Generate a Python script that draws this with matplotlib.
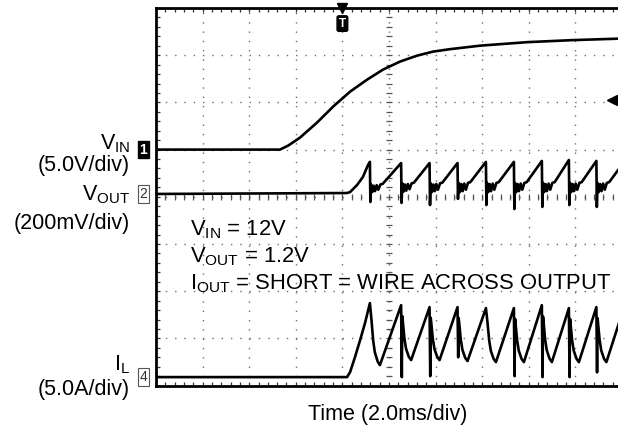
import numpy as np
import matplotlib
matplotlib.use("Agg")
import matplotlib.pyplot as plt
from matplotlib.ticker import MultipleLocator
import matplotlib.transforms as mtransforms

plt.rcParams['font.family'] = ['Liberation Sans', 'DejaVu Sans']
plt.rcParams['mathtext.fontset'] = 'custom'
plt.rcParams['mathtext.rm'] = 'Liberation Sans'
plt.rcParams['mathtext.it'] = 'Liberation Sans'

# ---------------- data (time in ms, 2 ms/div) ----------------
# V_IN (V), 5 V/div
vin_t = [0.0, 5.32, 5.67, 6.18, 6.91, 7.60, 8.33, 9.06, 9.74, 10.47, 11.20,
         11.89, 12.62, 13.91, 15.92, 17.90, 19.83, 20.0]
vin_v = [0.0, 0.0, 0.42, 1.27, 2.86, 4.55, 6.14, 7.41, 8.47, 9.32, 9.95,
         10.38, 10.64, 11.01, 11.38, 11.60, 11.75, 11.77]

# switching cycle peak times (ms)
cycle_t = [9.18, 10.52, 11.74, 12.94, 14.16, 15.36, 16.56, 17.72, 18.90, 20.09]

# V_OUT (mV), 200 mV/div
vout_start_t = [0.0, 8.20, 8.33, 8.63, 8.88, 9.10]
vout_start_mv = [0, 4, 8, 38, 72, 123]
vout_peak = [136, 131, 131, 131, 136, 136, 140, 144, 140, 136]
vout_spike = [-34, -38, -47, -21, -47, -64, -55, -47, -55]
vout_ring_hi = [40, 45, 45, 47, 47, 47, 47, 47, 47]
vout_ring_lo = [8, 10, 8, 8, 8, 8, 8, 8, 8]
ring_dt = [0.05, 0.10, 0.16, 0.22, 0.29, 0.36, 0.45, 0.55]

# I_L (A), 5 A/div
il_start_t = [0.0, 8.20, 8.33, 8.54, 8.76, 8.97]
il_start_a = [0.0, 0.0, 0.53, 2.12, 3.92, 5.72]
il_peak = [7.84, 7.62, 7.41, 7.41, 7.31, 7.31, 7.62, 7.31, 7.41, 7.41]
il_min = [1.27, 1.80, 1.80, 1.70, 1.59, 1.59, 1.59, 1.59, 1.59]
il_spike = [np.nan, 0.0, 0.1, 2.1, np.nan, 0.1, 0.0, 0.0, 0.5]
il_decay_dt = [0.07, 0.14, 0.21, 0.33, 0.43]
il_decay_frac = [0.72, 0.40, 0.21, 0.06, 0.0]

# channel offsets (divisions)
VIN_OFF, VOUT_OFF, IL_OFF = 5.0, 4.06, 0.18

# ---------------- build traces ----------------
vt, vv = list(vout_start_t), list(vout_start_mv)
for i in range(len(cycle_t) - 1):
    p = cycle_t[i]
    vt += [p, p + 0.02]
    vv += [vout_peak[i], vout_spike[i]]
    hi, lo = vout_ring_hi[i], vout_ring_lo[i]
    seq = [hi, lo, hi - 5, lo + 4, hi - 3, lo + 10, hi, hi + 3]
    vt += [p + d for d in ring_dt]
    vv += seq
vt.append(cycle_t[-1]); vv.append(vout_peak[-1])

it, ia = list(il_start_t), list(il_start_a)
for i in range(len(cycle_t) - 1):
    p = cycle_t[i]
    it.append(p); ia.append(il_peak[i])
    if not np.isnan(il_spike[i]):
        it += [p + 0.03, p + 0.05]
        ia += [il_spike[i], il_min[i] + (il_peak[i] - il_min[i]) * 0.8]
    for d, f in zip(il_decay_dt, il_decay_frac):
        it.append(p + d); ia.append(il_min[i] + (il_peak[i] - il_min[i]) * f)
it.append(cycle_t[-1]); ia.append(il_peak[-1])

# ---------------- figure ----------------
fig = plt.figure(figsize=(6.18, 4.32), dpi=100)
ax = fig.add_axes([156 / 618, 46.4 / 432, 466 / 618, 377.6 / 432])
ax.set_xlim(0, 20)
ax.set_ylim(0, 8)

dot = (0, (1, 5.7))
for x in np.arange(2, 20, 2):
    ax.axvline(x, color='#6e6e6e', lw=1.0, ls=dot, zorder=1)
for y in np.arange(1, 8, 1):
    ax.axhline(y, color='#6e6e6e', lw=1.0, ls=dot, zorder=1)
# centre-line tick marks
ax.vlines(np.arange(0.4, 20, 0.4), 4 - 0.06, 4 + 0.06, color='#555555', lw=0.9, zorder=1)
ax.hlines(np.arange(0.2, 8, 0.2), 10 - 0.13, 10 + 0.13, color='#555555', lw=0.9, zorder=1)

ax.xaxis.set_major_locator(MultipleLocator(2))
ax.xaxis.set_minor_locator(MultipleLocator(0.4))
ax.yaxis.set_major_locator(MultipleLocator(1))
ax.yaxis.set_minor_locator(MultipleLocator(0.2))
ax.tick_params(which='both', direction='in', length=3, width=0.9, top=True, right=True,
               labelbottom=False, labelleft=False, color='#333333')
for s in ax.spines.values():
    s.set_linewidth(2.0)

lw = 1.9
ax.plot(vin_t, np.array(vin_v) / 5.0 + VIN_OFF, color='black', lw=lw, zorder=3)
ax.plot(vt, np.array(vv) / 200.0 + VOUT_OFF, color='black', lw=lw, zorder=3,
        solid_joinstyle='round')
ax.plot(it, np.array(ia) / 5.0 + IL_OFF, color='black', lw=lw, zorder=3,
        solid_joinstyle='round')

# trigger marker
ax.plot([8.0], [8.0], marker='v', color='black', ms=7, clip_on=False, zorder=4)
ax.text(8.0, 7.67, 'T', ha='center', va='center', fontsize=8.5, fontweight='bold', color='white',
        bbox=dict(boxstyle='round,pad=0.15', fc='black', ec='black'), zorder=4)
# trigger level arrow
ax.plot([19.57], [6.05], marker='<', color='black', ms=7, zorder=4)
ax.plot([19.6, 20.0], [6.05, 6.05], color='black', lw=1.2, zorder=4)

# channel markers
bt = mtransforms.blended_transform_factory(ax.transAxes, ax.transData)
mx = -0.027
ax.text(mx, VIN_OFF, '1', transform=bt, ha='center', va='center', fontsize=10, fontweight='bold',
        color='white', bbox=dict(boxstyle='square,pad=0.12', fc='black', ec='black'), clip_on=False)
ax.text(mx, VOUT_OFF, '2', transform=bt, ha='center', va='center', fontsize=10,
        color='#333333', bbox=dict(boxstyle='square,pad=0.12', fc='white', ec='#555555', lw=0.8),
        clip_on=False)
ax.text(mx, IL_OFF, '4', transform=bt, ha='center', va='center', fontsize=10,
        color='#333333', bbox=dict(boxstyle='square,pad=0.12', fc='white', ec='#555555', lw=0.8),
        clip_on=False)

# left labels
lx = -0.056
fs = 15.5
ax.text(lx, 5.01, r'V$_{\mathrm{IN}}$', transform=bt, ha='right', va='baseline', fontsize=fs)
ax.text(lx, 4.54, '(5.0V/div)', transform=bt, ha='right', va='baseline', fontsize=fs)
ax.text(lx, 3.93, r'V$_{\mathrm{OUT}}$', transform=bt, ha='right', va='baseline', fontsize=fs)
ax.text(lx, 3.32, '(200mV/div)', transform=bt, ha='right', va='baseline', fontsize=fs)
ax.text(lx, 0.33, r'I$_{\mathrm{L}}$', transform=bt, ha='right', va='baseline', fontsize=fs)
ax.text(lx, -0.20, '(5.0A/div)', transform=bt, ha='right', va='baseline', fontsize=fs,
        clip_on=False)

# conditions text
fs2 = 15.8
ax.text(1.46, 3.19, r'V$_{\mathrm{IN}}$ = 12V', ha='left', va='baseline', fontsize=fs2, zorder=5)
ax.text(1.46, 2.62, r'V$_{\mathrm{OUT}}$ = 1.2V', ha='left', va='baseline', fontsize=fs2, zorder=5)
ax.text(1.46, 2.03, r'I$_{\mathrm{OUT}}$ = SHORT = WIRE ACROSS OUTPUT', ha='left',
        va='baseline', fontsize=fs2, zorder=5)

fig.text(388 / 618, 0.028, 'Time (2.0ms/div)', ha='center', va='baseline', fontsize=fs)

fig.savefig('out.png', dpi=100)
